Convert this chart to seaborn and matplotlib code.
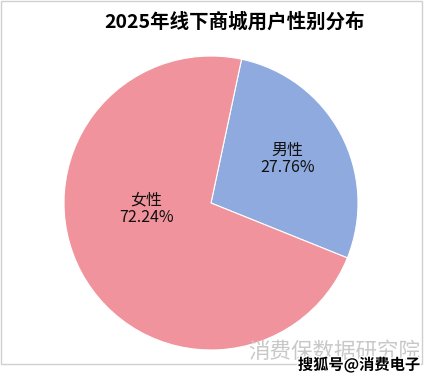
import matplotlib
matplotlib.use("Agg")
import matplotlib.pyplot as plt
import matplotlib.patheffects as pe
from matplotlib.patches import Rectangle
import seaborn as sns

# data
genders = ["男性", "女性"]
shares = [27.76, 72.24]
title = "2025年线下商城用户性别分布"

sns.set_theme(style="white")
plt.rcParams['font.family'] = ['Noto Sans CJK SC', 'DejaVu Sans']

colors = sns.color_palette(["#8FAADF", "#F0939C"])

W, H = 436, 379
fig = plt.figure(figsize=(W / 100, H / 100), dpi=100)

# chart frame
fig.patches.append(Rectangle((0.5 / W, (H - 363.5) / H), 421 / W, 363 / H,
                             transform=fig.transFigure, fill=False,
                             edgecolor="#D0D0D0", linewidth=1))

cx, cy, r = 211, 203, 147
ax = fig.add_axes([(cx - r) / W, (H - cy - r) / H, 2 * r / W, 2 * r / H])
wedges, _ = ax.pie(shares, colors=colors, startangle=78, counterclock=False,
                   radius=1, wedgeprops=dict(edgecolor="white", linewidth=0.8))
ax.set_xlim(-1, 1)
ax.set_ylim(-1, 1)
ax.set_aspect("equal")
ax.axis("off")

label_pos = [(0.52, 0.30), (-0.44, -0.04)]
for name, val, (x, y) in zip(genders, shares, label_pos):
    ax.text(x, y, f"{name}\n{val:.2f}%", ha="center", va="center",
            fontsize=11.5, color="#111111", linespacing=1.0)

fig.text(235 / W, 1 - 22 / H, title, ha="center", va="center",
         fontsize=14, fontweight="bold", color="black")

# watermarks
fig.text(420 / W, 1 - 352 / H, "消费保数据研究院", ha="right", va="center",
         fontsize=15.5, color="#C8C8C8")
fig.text(420 / W, 1 - 365 / H, "搜狐号@消费电子", ha="right", va="center",
         fontsize=11, fontweight="bold", color="black",
         path_effects=[pe.withStroke(linewidth=2, foreground="white")])

fig.savefig("out.png", dpi=100)
